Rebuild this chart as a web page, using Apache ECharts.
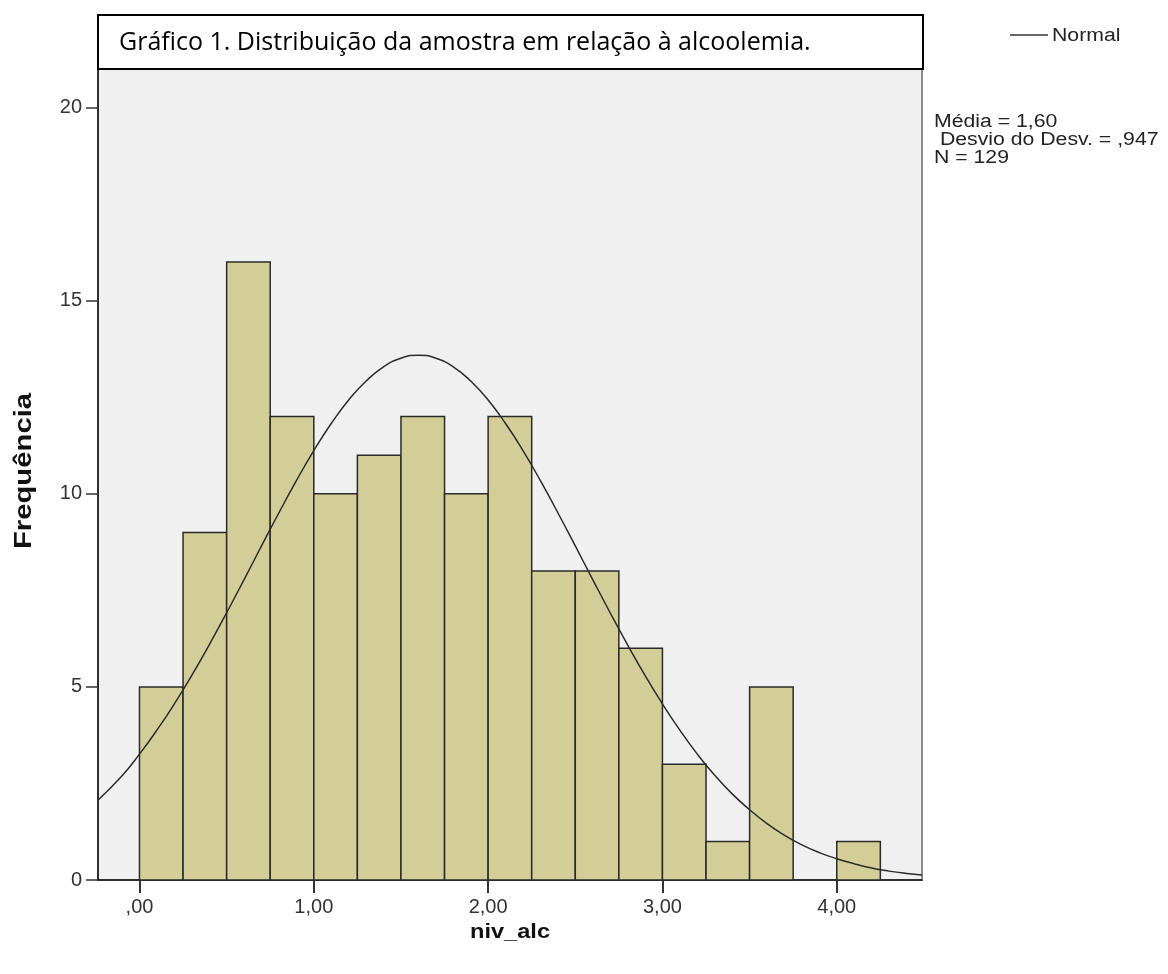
<!DOCTYPE html>
<html>
<head>
<meta charset="utf-8">
<script src="https://cdn.jsdelivr.net/npm/echarts@6/dist/echarts.min.js"></script>
<style>
html,body{margin:0;padding:0;background:#fff;}
#c{width:1168px;height:974px;}
</style>
</head>
<body>
<div id="c"></div>
<script>
// Histogram bins (niv_alc), width 0.25
var binStarts = [0, 0.25, 0.5, 0.75, 1.0, 1.25, 1.5, 1.75, 2.0, 2.25, 2.5, 2.75, 3.0, 3.25, 3.5, 3.75, 4.0];
var binWidth = 0.25;
var counts = [5, 9, 16, 12, 10, 11, 12, 10, 12, 8, 8, 6, 3, 1, 5, 0, 1];

// Normal curve
var curveX = [-0.24, -0.1, 0, 0.1, 0.2, 0.3, 0.4, 0.5, 0.6, 0.7, 0.8, 0.9, 1.0, 1.1, 1.2, 1.3, 1.4, 1.5, 1.6, 1.7, 1.8, 1.9, 2.0, 2.1, 2.2, 2.3, 2.4, 2.5, 2.6, 2.7, 2.8, 2.9, 3.0, 3.1, 3.2, 3.3, 3.4, 3.5, 3.6, 3.7, 3.8, 3.9, 4.0, 4.1, 4.2, 4.3, 4.4, 4.49];
var curveY = [2.06, 2.70, 3.26, 3.88, 4.56, 5.30, 6.09, 6.92, 7.78, 8.65, 9.51, 10.34, 11.12, 11.82, 12.43, 12.92, 13.29, 13.51, 13.59, 13.51, 13.29, 12.92, 12.43, 11.82, 11.12, 10.34, 9.51, 8.65, 7.78, 6.92, 6.09, 5.30, 4.56, 3.88, 3.26, 2.71, 2.23, 1.82, 1.46, 1.16, 0.91, 0.71, 0.55, 0.42, 0.31, 0.23, 0.17, 0.13];

var xTicks = [0, 1, 2, 3, 4];
var yTicks = [0, 5, 10, 15, 20];

var titleText = 'Gráfico 1. Distribuição da amostra em relação à alcoolemia.';
var statsLines = ['Média = 1,60', ' Desvio do Desv. = ,947', 'N = 129'];

var histData = binStarts.map(function (s, i) { return [s, s + binWidth, counts[i]]; });
var curveData = curveX.map(function (x, i) { return [x, curveY[i]]; });

var chart = echarts.init(document.getElementById('c'), null, {renderer: 'canvas'});
var font = '"Liberation Sans", Arial, sans-serif';

chart.setOption({
  animation: false,
  grid: {
    left: 98, right: 246, top: 69, bottom: 94,
    show: true, backgroundColor: '#f0f0f0', borderColor: '#8a8a8a', borderWidth: 2
  },
  xAxis: {
    type: 'value', min: -0.238, max: 4.489,
    axisLine: {show: true, onZero: false, lineStyle: {color: '#111', width: 1.5}},
    axisTick: {show: true, customValues: xTicks, length: 13, lineStyle: {color: '#333', width: 2}},
    axisLabel: {
      customValues: xTicks, margin: 17, fontFamily: font, fontSize: 20, color: '#333',
      formatter: function (v) { return v === 0 ? ',00' : v + ',00'; }
    },
    splitLine: {show: false}
  },
  yAxis: {
    type: 'value', min: 0, max: 21,
    axisLine: {show: true, onZero: false, lineStyle: {color: '#111', width: 1.5}},
    axisTick: {show: true, customValues: yTicks, length: 12, lineStyle: {color: '#333', width: 1.5}},
    axisLabel: {customValues: yTicks, margin: 16, fontFamily: font, fontSize: 20, color: '#333'},
    splitLine: {show: false}
  },
  series: [
    {
      type: 'custom',
      z: 2,
      data: histData,
      encode: {x: [0, 1], y: 2},
      renderItem: function (params, api) {
        var c = api.value(2);
        if (!c) return null;
        var p0 = api.coord([api.value(0), c]);
        var p1 = api.coord([api.value(1), 0]);
        return {
          type: 'rect',
          shape: {x: p0[0], y: p0[1], width: p1[0] - p0[0], height: p1[1] - p0[1]},
          style: {fill: '#d3ce98', stroke: '#2a2a2a', lineWidth: 1.5}
        };
      }
    },
    {
      type: 'line',
      z: 3,
      data: curveData,
      smooth: true,
      showSymbol: false,
      symbol: 'none',
      clip: true,
      lineStyle: {color: '#2b2b2b', width: 1.5}
    }
  ],
  graphic: [
    {
      type: 'rect', z: 10,
      shape: {x: 98, y: 15, width: 825, height: 54},
      style: {fill: '#fff', stroke: '#000', lineWidth: 2}
    },
    {
      type: 'text', z: 11, x: 119, y: 43,
      style: {text: titleText, font: '25px "Open Sans", "Noto Sans", sans-serif', fill: '#000', verticalAlign: 'middle', align: 'left'}
    },
    {
      type: 'line', z: 11,
      shape: {x1: 1010, y1: 35, x2: 1048, y2: 35},
      style: {stroke: '#333', lineWidth: 1.5}
    },
    {
      type: 'text', z: 11, x: 1052, y: 36, scaleX: 1.18,
      style: {text: 'Normal', font: '18px ' + font, fill: '#222', verticalAlign: 'middle'}
    },
    {
      type: 'text', z: 11, x: 934, y: 122, scaleX: 1.18,
      style: {text: statsLines[0], font: '18px ' + font, fill: '#222', verticalAlign: 'middle'}
    },
    {
      type: 'text', z: 11, x: 934, y: 140, scaleX: 1.18,
      style: {text: statsLines[1], font: '18px ' + font, fill: '#222', verticalAlign: 'middle'}
    },
    {
      type: 'text', z: 11, x: 934, y: 158, scaleX: 1.18,
      style: {text: statsLines[2], font: '18px ' + font, fill: '#222', verticalAlign: 'middle'}
    },
    {
      type: 'text', z: 11, x: 510, y: 932, scaleX: 1.18,
      style: {text: 'niv_alc', font: 'bold 20px ' + font, fill: '#111', align: 'center', verticalAlign: 'middle'}
    },
    {
      type: 'text', z: 11, x: 24, y: 471, rotation: Math.PI / 2, scaleX: 1.22,
      style: {text: 'Frequência', font: 'bold 24px ' + font, fill: '#111', align: 'center', verticalAlign: 'middle'}
    }
  ]
});
</script>
</body>
</html>
